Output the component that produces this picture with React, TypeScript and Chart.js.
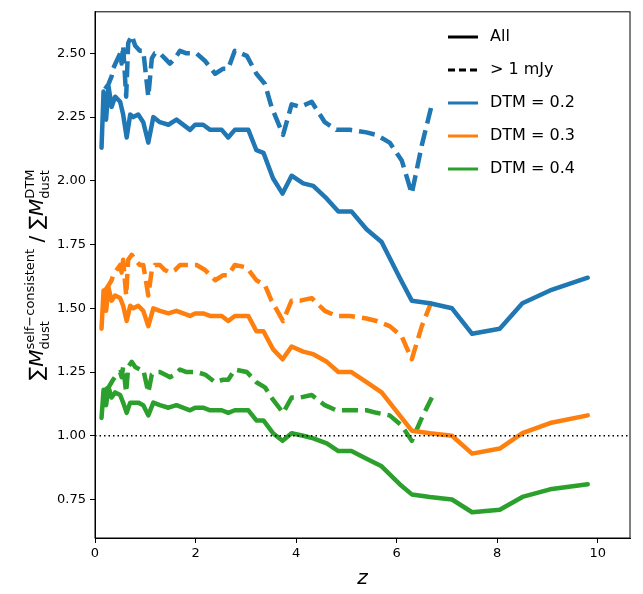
import React, { useEffect, useRef } from "react";
import { Chart, registerables } from "chart.js";
Chart.register(...registerables);

const zAll = [0.13,0.17,0.22,0.27,0.33,0.40,0.50,0.56,0.63,0.70,0.76,0.86,0.96,1.06,1.16,1.29,1.46,1.62,1.89,1.99,2.15,2.29,2.52,2.65,2.78,3.05,3.21,3.35,3.54,3.73,3.91,4.14,4.34,4.61,4.84,5.10,5.40,5.70,6.06,6.30,6.66,7.10,7.50,8.05,8.50,9.05,9.80];
const blueAll = [2.13,2.35,2.24,2.37,2.29,2.33,2.31,2.26,2.17,2.26,2.25,2.26,2.23,2.15,2.25,2.23,2.22,2.24,2.20,2.22,2.22,2.20,2.20,2.17,2.20,2.20,2.12,2.11,2.01,1.95,2.02,1.99,1.98,1.93,1.88,1.88,1.81,1.76,1.62,1.53,1.52,1.50,1.40,1.42,1.52,1.57,1.62];
const orangeAll = [1.42,1.57,1.49,1.58,1.53,1.55,1.54,1.51,1.45,1.51,1.50,1.51,1.49,1.43,1.50,1.49,1.48,1.49,1.47,1.48,1.48,1.47,1.47,1.45,1.47,1.47,1.41,1.41,1.34,1.30,1.35,1.33,1.32,1.29,1.25,1.25,1.21,1.17,1.08,1.02,1.01,1.00,0.93,0.95,1.01,1.05,1.08];
const greenAll = [1.07,1.18,1.12,1.19,1.15,1.17,1.16,1.13,1.09,1.13,1.13,1.13,1.12,1.08,1.13,1.12,1.11,1.12,1.10,1.11,1.11,1.10,1.10,1.09,1.10,1.10,1.06,1.06,1.01,0.98,1.01,1.00,0.99,0.97,0.94,0.94,0.91,0.88,0.81,0.77,0.76,0.75,0.70,0.71,0.76,0.79,0.81];

const zBright = [0.20,0.27,0.33,0.36,0.43,0.50,0.53,0.56,0.62,0.66,0.73,0.80,0.89,0.96,1.06,1.13,1.19,1.29,1.39,1.49,1.59,1.69,1.82,2.02,2.19,2.39,2.55,2.65,2.78,3.02,3.21,3.38,3.51,3.74,3.91,4.08,4.31,4.57,4.80,5.07,5.40,5.60,5.86,6.10,6.30,6.50,6.70];
const blueBright = [2.36,2.38,2.41,2.44,2.47,2.50,2.46,2.53,2.33,2.54,2.57,2.53,2.51,2.51,2.33,2.48,2.50,2.50,2.48,2.46,2.48,2.51,2.50,2.50,2.47,2.42,2.44,2.44,2.51,2.49,2.42,2.38,2.29,2.18,2.30,2.29,2.31,2.23,2.20,2.20,2.19,2.18,2.15,2.08,1.95,2.14,2.30];
const orangeBright = [1.57,1.59,1.61,1.63,1.65,1.67,1.64,1.69,1.55,1.69,1.71,1.69,1.67,1.67,1.55,1.65,1.67,1.67,1.65,1.64,1.65,1.67,1.67,1.67,1.65,1.61,1.63,1.63,1.67,1.66,1.61,1.59,1.53,1.45,1.53,1.53,1.54,1.49,1.47,1.47,1.46,1.45,1.43,1.39,1.30,1.43,1.53];
const greenBright = [1.18,1.19,1.21,1.22,1.24,1.25,1.23,1.27,1.17,1.27,1.29,1.27,1.26,1.26,1.17,1.24,1.25,1.25,1.24,1.23,1.24,1.26,1.25,1.25,1.24,1.21,1.22,1.22,1.26,1.25,1.21,1.19,1.15,1.09,1.15,1.15,1.16,1.12,1.10,1.10,1.10,1.09,1.08,1.04,0.98,1.07,1.15];

const xTicks = [0, 2, 4, 6, 8, 10];
const yTicks = [0.75, 1, 1.25, 1.5, 1.75, 2, 2.25, 2.5];
const legendLabels = ["All", "> 1 mJy", "DTM = 0.2", "DTM = 0.3", "DTM = 0.4"];
const BLUE = "#1f77b4", ORANGE = "#ff7f0e", GREEN = "#2ca02c";
const FONT = "'DejaVu Sans', sans-serif";

const pts = (xs: number[], ys: number[]) => xs.map((x, i) => ({ x, y: ys[i] }));

export default function App() {
  const ref = useRef<HTMLCanvasElement>(null);
  useEffect(() => {
    document.body.style.margin = "0";
    const solid = (d: number[], c: string) => ({ data: pts(zAll, d), borderColor: c, borderWidth: 4.5, pointRadius: 0, borderJoinStyle: "round" as const, borderCapStyle: "round" as const });
    const dashed = (d: number[], c: string) => ({ data: pts(zBright, d), borderColor: c, borderWidth: 4.5, pointRadius: 0, borderDash: [16, 7], borderJoinStyle: "round" as const });
    const decor = {
      id: "decor",
      afterDraw(chart: any) {
        const ctx = chart.ctx; const a = chart.chartArea;
        ctx.save();
        ctx.strokeStyle = "#000"; ctx.lineWidth = 1;
        ctx.strokeRect(a.left, a.top, a.right - a.left, a.bottom - a.top);
        const items: [string, string, number[]][] = [["#000", legendLabels[0], []], ["#000", legendLabels[1], [7, 4]], [BLUE, legendLabels[2], []], [ORANGE, legendLabels[3], []], [GREEN, legendLabels[4], []]];
        items.forEach(([c, t, dash], i) => {
          const y = 37 + i * 33;
          ctx.strokeStyle = c; ctx.lineWidth = 3; ctx.setLineDash(dash);
          ctx.beginPath(); ctx.moveTo(448, y); ctx.lineTo(478, y); ctx.stroke();
          ctx.setLineDash([]);
          ctx.fillStyle = "#000"; ctx.font = `16px ${FONT}`; ctx.textBaseline = "middle"; ctx.textAlign = "left";
          ctx.fillText(t, 490, y);
        });
        ctx.font = `italic 20px ${FONT}`; ctx.textAlign = "center"; ctx.textBaseline = "alphabetic";
        ctx.fillText("z", (a.left + a.right) / 2, 584);
        ctx.translate(36, (a.top + a.bottom) / 2); ctx.rotate(-Math.PI / 2);
        const parts: [string, string, number, boolean][] = [
          ["∑", "n", 0, false], ["M", "i", 0, false], ["self−consistent", "s", -9, false], ["dust", "s", 6, true],
          [" / ∑", "n", 0, false], ["M", "i", 0, false], ["DTM", "s", -9, false], ["dust", "s", 6, true]];
        const fontOf = (k: string) => k === "s" ? `13px ${FONT}` : k === "i" ? `italic 20px ${FONT}` : `20px ${FONT}`;
        const widths: number[] = [];
        parts.forEach(([t, k]) => { ctx.font = fontOf(k); widths.push(ctx.measureText(t).width); });
        let x = 0; const xs: number[] = [];
        parts.forEach(([, , , isSub], i) => {
          if (isSub) { xs.push(x - widths[i - 1]); x = Math.max(x, x - widths[i - 1] + widths[i]); }
          else { xs.push(x); x += widths[i]; }
        });
        const total = x;
        parts.forEach(([t, k, dy], i) => {
          ctx.font = fontOf(k); ctx.textAlign = "left"; ctx.textBaseline = "alphabetic";
          ctx.fillText(t, xs[i] - total / 2, 7 + dy);
        });
        ctx.restore();
      },
    };
    const chart = new Chart(ref.current!, {
      type: "line",
      data: {
        datasets: [
          { data: [{ x: 0, y: 1 }, { x: 10.64, y: 1 }], borderColor: "#000", borderWidth: 1.5, borderDash: [1.5, 3], pointRadius: 0 },
          solid(blueAll, BLUE), dashed(blueBright, BLUE),
          solid(orangeAll, ORANGE), dashed(orangeBright, ORANGE),
          solid(greenAll, GREEN), dashed(greenBright, GREEN),
        ] as any,
      },
      options: {
        animation: false, responsive: false,
        layout: { padding: { left: 0, top: 5, right: 13, bottom: 0 } },
        plugins: { legend: { display: false }, tooltip: { enabled: false } },
        scales: {
          x: {
            type: "linear", min: 0, max: 10.64,
            afterFit: (s: any) => { s.height = 56; },
            afterBuildTicks: (s: any) => { s.ticks = xTicks.map((v) => ({ value: v })); },
            grid: { drawOnChartArea: false, tickLength: 5, color: "#000" },
            border: { color: "#000" },
            ticks: { color: "#000", font: { family: FONT, size: 13 }, padding: 3, callback: (v: any) => String(v) },
          },
          y: {
            type: "linear", min: 0.599, max: 2.663,
            afterFit: (s: any) => { s.width = 95; },
            afterBuildTicks: (s: any) => { s.ticks = yTicks.map((v) => ({ value: v })); },
            grid: { drawOnChartArea: false, tickLength: 5, color: "#000" },
            border: { color: "#000" },
            ticks: { color: "#000", font: { family: FONT, size: 13 }, padding: 4, callback: (v: any) => Number(v).toFixed(2) },
          },
        },
      } as any,
      plugins: [decor],
    });
    return () => chart.destroy();
  }, []);
  return <canvas ref={ref} width={643} height={594} />;
}
